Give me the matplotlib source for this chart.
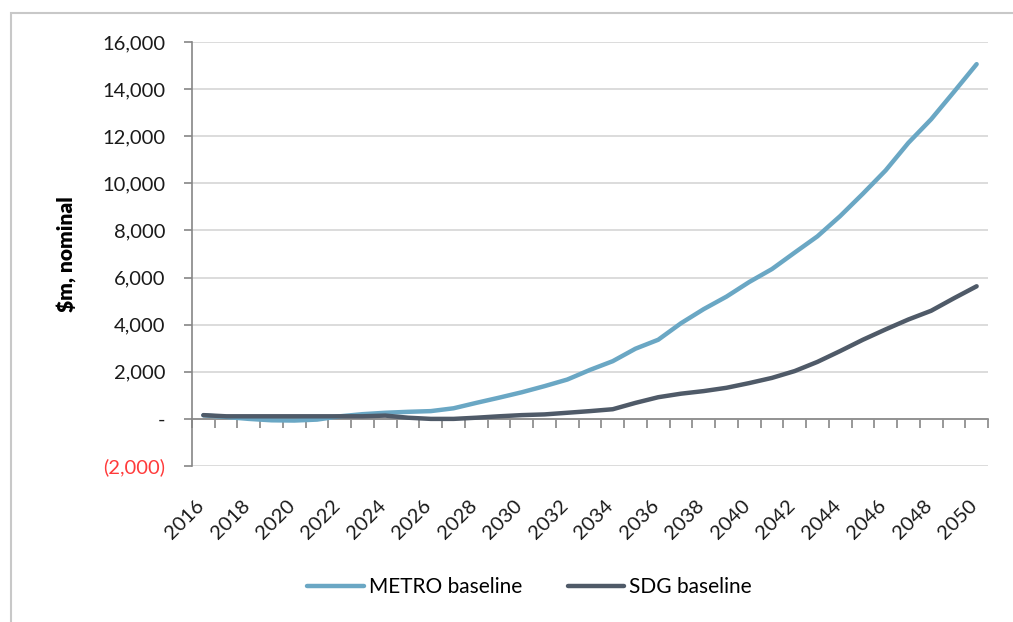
import matplotlib.pyplot as plt
from matplotlib.patches import Rectangle
from matplotlib.ticker import FuncFormatter
from matplotlib.transforms import ScaledTranslation

years = list(range(2016, 2051))

# $m nominal
metro = [150, 80, 0, -60, -70, -30, 110, 200, 260, 300, 330, 450, 680, 900,
         1130, 1390, 1670, 2080, 2450, 2980, 3360, 4060, 4660, 5190, 5810,
         6360, 7060, 7750, 8610, 9560, 10550, 11720, 12720, 13880, 15060]
sdg = [160, 110, 110, 110, 110, 110, 110, 110, 140, 50, 0, 0, 50, 110,
       160, 190, 260, 330, 410, 680, 920, 1070, 1180, 1320, 1520,
       1740, 2030, 2420, 2880, 3360, 3800, 4220, 4590, 5120, 5630]

series_names = ['METRO baseline', 'SDG baseline']
series_colors = ['#6aa7c4', '#4f5a68']

plt.rcParams['font.family'] = ['Lato', 'DejaVu Sans']

fig = plt.figure(figsize=(10.13, 6.22), dpi=100)
fig.patches.append(Rectangle((11 / 1013, -0.1), 1.2, 1.1 - 13 / 622,
                             transform=fig.transFigure, fill=False,
                             edgecolor='#c8c8c8', linewidth=1.5))

ax = fig.add_axes([192 / 1013, 1 - 466 / 622, 796 / 1013, 424 / 622])
x = list(range(len(years)))

for vals, name, col in zip([metro, sdg], series_names, series_colors):
    ax.plot(x, vals, color=col, linewidth=3.2, label=name,
            solid_capstyle='round', zorder=3)

ax.set_xlim(-0.5, len(years) - 0.5)
ax.set_ylim(-2000, 16000)
ax.set_yticks(range(-2000, 16001, 2000))
ax.yaxis.grid(True, color='#d9d9d9', linewidth=1.3)
ax.set_axisbelow(True)


def fmt(v, pos):
    if v == 0:
        return '-'
    if v < 0:
        return '({:,.0f})'.format(-v)
    return '{:,.0f}'.format(v)


ax.yaxis.set_major_formatter(FuncFormatter(fmt))
ax.tick_params(axis='y', length=6, width=1.2, color='#868686',
               labelsize=14.5, labelcolor='#1a1a1a', pad=13)
for lbl in ax.get_yticklabels():
    if lbl.get_text().startswith('('):
        lbl.set_color('#ff3b3b')

for s in ['top', 'right']:
    ax.spines[s].set_visible(False)
ax.spines['left'].set_color('#868686')
ax.spines['left'].set_linewidth(1.2)

# category axis crosses at zero, tick marks between categories
ax.spines['bottom'].set_position(('data', 0))
ax.spines['bottom'].set_color('#868686')
ax.spines['bottom'].set_linewidth(1.2)
ax.set_xticks([i - 0.5 for i in range(len(years) + 1)])
ax.set_xticklabels([])
ax.tick_params(axis='x', direction='out', length=6.5, width=1.2, color='#868686')

# year labels at the bottom of the plot area
sec = ax.secondary_xaxis('bottom')
sec.set_xticks(x[::2])
sec.set_xticklabels([str(y) for y in years[::2]], rotation=45, ha='right')
sec.tick_params(length=0, labelsize=14.5, labelcolor='#1a1a1a', pad=22)
sec.spines['bottom'].set_visible(False)
shift = ScaledTranslation(4 / 100, 0, fig.dpi_scale_trans)
for lbl in sec.get_xticklabels():
    lbl.set_transform(lbl.get_transform() + shift)

ax.set_ylabel('$m, nominal', fontsize=15, fontweight='heavy', labelpad=18)

fig.legend(loc='center', bbox_to_anchor=(0.523, 1 - 587 / 622), ncol=2,
           frameon=False, fontsize=15, handlelength=2.7, handletextpad=0.25,
           columnspacing=2.2)

fig.savefig('out.png', dpi=100)
